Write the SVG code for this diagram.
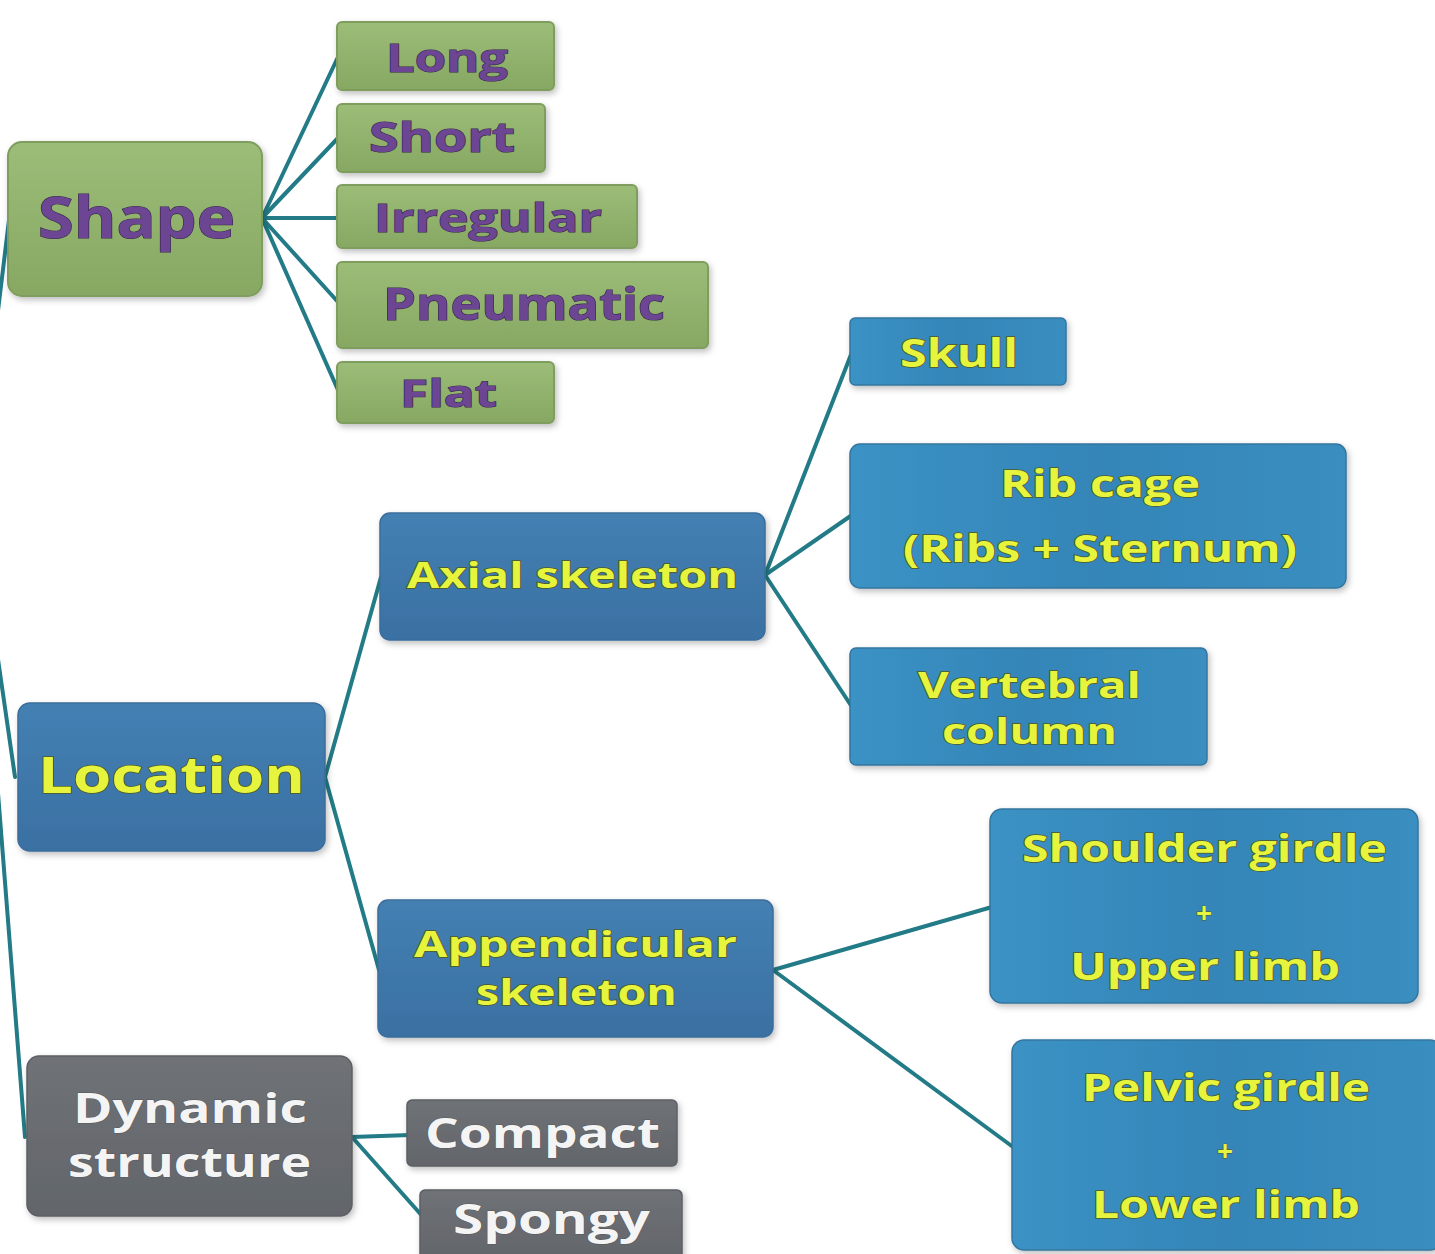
<svg xmlns="http://www.w3.org/2000/svg" width="1435" height="1254" viewBox="0 0 1435 1254">
<defs>
<linearGradient id="gGreen" x1="0" y1="0" x2="0" y2="1"><stop offset="0" stop-color="#9cbd78"/><stop offset="1" stop-color="#86a862"/></linearGradient>
<linearGradient id="gDark" x1="0" y1="0" x2="0" y2="1"><stop offset="0" stop-color="#4480b3"/><stop offset="1" stop-color="#3a70a2"/></linearGradient>
<linearGradient id="gLight" x1="0" y1="0" x2="1" y2="0"><stop offset="0" stop-color="#3b92c4"/><stop offset="0.5" stop-color="#3485b8"/><stop offset="1" stop-color="#3a8ec0"/></linearGradient>
<linearGradient id="gGray" x1="0" y1="0" x2="0" y2="1"><stop offset="0" stop-color="#6f7277"/><stop offset="1" stop-color="#62656a"/></linearGradient>
<filter id="sh" x="-10%" y="-10%" width="125%" height="130%"><feDropShadow dx="2" dy="3" stdDeviation="3" flood-color="#000" flood-opacity="0.25"/></filter>
</defs>
<style>
.conn{stroke:#227b86;stroke-width:4;fill:none;stroke-linecap:round}
.green{fill:url(#gGreen);stroke:#7f9d5e;stroke-width:2}
.dark{fill:url(#gDark);stroke:#3a6d9c;stroke-width:1.5}
.light{fill:url(#gLight);stroke:#33769f;stroke-width:1.5}
.gray{fill:url(#gGray);stroke:#5c5f64;stroke-width:1.5}
text{font-family:"Open Sans","Liberation Sans",sans-serif;font-weight:bold;text-anchor:start}
.tp{fill:#6c4593;stroke:#3a2a4e;stroke-width:1.2;paint-order:stroke}
.ty{fill:#e6f43e;stroke:#4d5a20;stroke-width:1.5;paint-order:stroke}
.tw{fill:#f4f4f4;stroke:#55585c;stroke-width:1;paint-order:stroke}
</style>
<g id="connectors">
<line class="conn" x1="-25" y1="500" x2="9" y2="220"/>
<line class="conn" x1="-25" y1="500" x2="15" y2="777"/>
<line class="conn" x1="-25" y1="500" x2="25" y2="1137"/>
<line class="conn" x1="262" y1="218" x2="338" y2="57"/>
<line class="conn" x1="262" y1="218" x2="338" y2="138"/>
<line class="conn" x1="262" y1="218" x2="338" y2="218"/>
<line class="conn" x1="262" y1="218" x2="338" y2="302"/>
<line class="conn" x1="262" y1="218" x2="338" y2="390"/>
<line class="conn" x1="325" y1="777" x2="381" y2="577"/>
<line class="conn" x1="325" y1="777" x2="379" y2="970"/>
<line class="conn" x1="765" y1="575" x2="852" y2="352"/>
<line class="conn" x1="765" y1="575" x2="852" y2="515"/>
<line class="conn" x1="765" y1="575" x2="852" y2="707"/>
<line class="conn" x1="773" y1="970" x2="992" y2="907"/>
<line class="conn" x1="773" y1="970" x2="1013" y2="1147"/>
<line class="conn" x1="352" y1="1137" x2="410" y2="1135"/>
<line class="conn" x1="352" y1="1137" x2="424" y2="1218"/>
</g>
<g id="shape"><rect class="green" filter="url(#sh)" x="8" y="142" width="254" height="154" rx="14"/><text class="tp" x="38" y="238" font-size="57" textLength="197" lengthAdjust="spacingAndGlyphs">Shape</text></g>
<g id="long"><rect class="green" filter="url(#sh)" x="337" y="22" width="217" height="68" rx="5"/><text class="tp" x="386" y="72" font-size="40" textLength="122" lengthAdjust="spacingAndGlyphs">Long</text></g>
<g id="short"><rect class="green" filter="url(#sh)" x="337" y="104" width="208" height="68" rx="5"/><text class="tp" x="369" y="152" font-size="42" textLength="146" lengthAdjust="spacingAndGlyphs">Short</text></g>
<g id="irregular"><rect class="green" filter="url(#sh)" x="337" y="185" width="300" height="63" rx="5"/><text class="tp" x="374" y="232" font-size="40" textLength="228" lengthAdjust="spacingAndGlyphs">Irregular</text></g>
<g id="pneumatic"><rect class="green" filter="url(#sh)" x="337" y="262" width="371" height="86" rx="5"/><text class="tp" x="383" y="320" font-size="45" textLength="282" lengthAdjust="spacingAndGlyphs">Pneumatic</text></g>
<g id="flat"><rect class="green" filter="url(#sh)" x="337" y="362" width="217" height="61" rx="5"/><text class="tp" x="400" y="407" font-size="38" textLength="97" lengthAdjust="spacingAndGlyphs">Flat</text></g>
<g id="location"><rect class="dark" filter="url(#sh)" x="18" y="703" width="307" height="148" rx="12"/><text class="ty" x="38" y="793" font-size="50" textLength="267" lengthAdjust="spacingAndGlyphs">Location</text></g>
<g id="axial"><rect class="dark" filter="url(#sh)" x="380" y="513" width="385" height="127" rx="10"/><text class="ty" x="407" y="588" font-size="35" textLength="331" lengthAdjust="spacingAndGlyphs">Axial skeleton</text></g>
<g id="appendicular"><rect class="dark" filter="url(#sh)" x="378" y="900" width="395" height="137" rx="10"/><text class="ty" x="414" y="957" font-size="35" textLength="323" lengthAdjust="spacingAndGlyphs">Appendicular</text><text class="ty" x="476" y="1005" font-size="35" textLength="201" lengthAdjust="spacingAndGlyphs">skeleton</text></g>
<g id="skull"><rect class="light" filter="url(#sh)" x="850" y="318" width="216" height="67" rx="5"/><text class="ty" x="900" y="367" font-size="40" textLength="118" lengthAdjust="spacingAndGlyphs">Skull</text></g>
<g id="ribcage"><rect class="light" filter="url(#sh)" x="850" y="444" width="496" height="144" rx="10"/><text class="ty" x="1000" y="497" font-size="38" textLength="200" lengthAdjust="spacingAndGlyphs">Rib cage</text><text class="ty" x="903" y="562" font-size="38" textLength="394" lengthAdjust="spacingAndGlyphs">(Ribs + Sternum)</text></g>
<g id="vertebral"><rect class="light" filter="url(#sh)" x="850" y="648" width="357" height="117" rx="6"/><text class="ty" x="918" y="698" font-size="36" textLength="223" lengthAdjust="spacingAndGlyphs">Vertebral</text><text class="ty" x="942" y="744" font-size="36" textLength="175" lengthAdjust="spacingAndGlyphs">column</text></g>
<g id="shoulder"><rect class="light" filter="url(#sh)" x="990" y="809" width="428" height="194" rx="12"/><text class="ty" x="1022" y="862" font-size="38" textLength="365" lengthAdjust="spacingAndGlyphs">Shoulder girdle</text><text class="ty" x="1196" y="923" font-size="28" style="stroke-width:0.8">+</text><text class="ty" x="1070" y="980" font-size="38" textLength="270" lengthAdjust="spacingAndGlyphs">Upper limb</text></g>
<g id="pelvic"><rect class="light" filter="url(#sh)" x="1012" y="1040" width="430" height="210" rx="12"/><text class="ty" x="1082" y="1101" font-size="38" textLength="288" lengthAdjust="spacingAndGlyphs">Pelvic girdle</text><text class="ty" x="1217" y="1161" font-size="28" style="stroke-width:0.8">+</text><text class="ty" x="1092" y="1218" font-size="38" textLength="268" lengthAdjust="spacingAndGlyphs">Lower limb</text></g>
<g id="dynamic"><rect class="gray" filter="url(#sh)" x="27" y="1056" width="325" height="160" rx="12"/><text class="tw" x="73" y="1123" font-size="42" textLength="234" lengthAdjust="spacingAndGlyphs">Dynamic</text><text class="tw" x="68" y="1177" font-size="42" textLength="243" lengthAdjust="spacingAndGlyphs">structure</text></g>
<g id="compact"><rect class="gray" filter="url(#sh)" x="407" y="1100" width="270" height="66" rx="5"/><text class="tw" x="425" y="1148" font-size="42" textLength="235" lengthAdjust="spacingAndGlyphs">Compact</text></g>
<g id="spongy"><rect class="gray" filter="url(#sh)" x="420" y="1190" width="262" height="70" rx="5"/><text class="tw" x="453" y="1234" font-size="42" textLength="197" lengthAdjust="spacingAndGlyphs">Spongy</text></g>
</svg>
